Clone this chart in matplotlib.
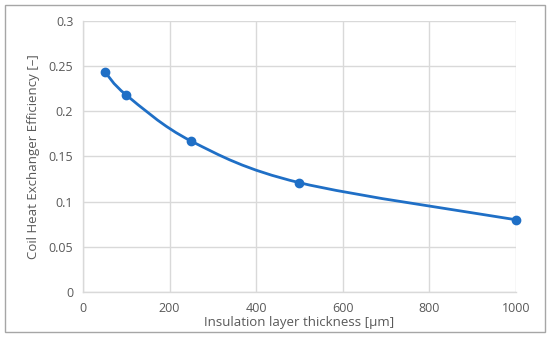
import numpy as np
import matplotlib
matplotlib.use("Agg")
import matplotlib.pyplot as plt
from matplotlib.path import Path
from matplotlib.patches import PathPatch, Rectangle

# data
thickness = [50, 100, 250, 500, 1000]           # µm
efficiency = [0.244, 0.218, 0.167, 0.121, 0.080]

x_ticks = [0, 200, 400, 600, 800, 1000]
y_ticks = [0, 0.05, 0.1, 0.15, 0.2, 0.25, 0.3]
y_tick_labels = ["0", "0.05", "0.1", "0.15", "0.2", "0.25", "0.3"]

BLUE = "#1f6fc6"
GRID = "#d9d9d9"
TXT = "#595959"

plt.rcParams["font.family"] = ["Open Sans", "DejaVu Sans"]


def smooth_path(xs, ys, t=1 / 6):
    # Excel-style smoothed line: cubic Bezier segments through the data points
    pts = np.column_stack([xs, ys]).astype(float)
    n = len(pts)
    verts = [pts[0]]
    codes = [Path.MOVETO]
    for i in range(n - 1):
        p0 = pts[i - 1] if i > 0 else pts[i]
        p1, p2 = pts[i], pts[i + 1]
        p3 = pts[i + 2] if i + 2 < n else pts[i + 1]
        c1 = p1 + (p2 - p0) * t
        c2 = p2 - (p3 - p1) * t
        verts += [c1, c2, p2]
        codes += [Path.CURVE4] * 3
    return Path(verts, codes)


fig = plt.figure(figsize=(5.5, 3.38), dpi=100)
ax = fig.add_axes([0.151, 0.136, 0.787, 0.802])

ax.add_patch(PathPatch(smooth_path(thickness, efficiency), facecolor="none",
                       edgecolor=BLUE, lw=2.0, zorder=3, clip_on=False))
ax.plot(thickness, efficiency, "o", color=BLUE, ms=6, zorder=4, clip_on=False)

ax.set_xlim(0, 1000)
ax.set_ylim(0, 0.3)
ax.set_xticks(x_ticks)
ax.set_yticks(y_ticks)
ax.set_yticklabels(y_tick_labels)
ax.grid(True, color=GRID, lw=1.0)
ax.set_axisbelow(True)
for s in ["top", "right"]:
    ax.spines[s].set_visible(False)
for s in ["left", "bottom"]:
    ax.spines[s].set_color(GRID)
    ax.spines[s].set_linewidth(1.0)
ax.tick_params(length=0, colors=TXT, labelsize=9, pad=7)
ax.set_xlabel("Insulation layer thickness [µm]", color=TXT, fontsize=9.5, labelpad=1)
ax.set_ylabel("Coil Heat Exchanger Efficiency [–]", color=TXT, fontsize=9.5, labelpad=6)

# outer chart border
fig.patches.append(Rectangle((5 / 550, 6 / 338), 540 / 550, 327 / 338,
                             transform=fig.transFigure, fill=False,
                             edgecolor="#a6a6a6", lw=1.0))

fig.savefig("out.png", dpi=100)
